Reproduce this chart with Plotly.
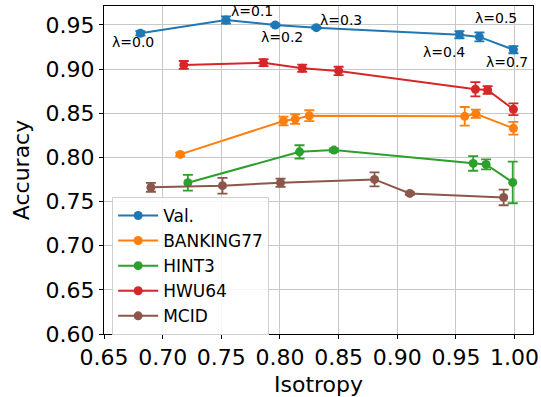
import plotly.graph_objects as go

# ---- data ----
val_x = [0.681, 0.754, 0.796, 0.831, 0.953, 0.970, 0.999]
val_y = [0.9406, 0.9557, 0.9500, 0.9470, 0.9390, 0.9365, 0.9220]
val_err = [0.0025, 0.004, 0.0015, 0.0015, 0.004, 0.005, 0.004]
val_labels = ["λ=0.0", "λ=0.1", "λ=0.2", "λ=0.3", "λ=0.4", "λ=0.5", "λ=0.7"]

bank_x = [0.715, 0.803, 0.813, 0.825, 0.9575, 0.967, 0.999]
bank_y = [0.8034, 0.8412, 0.8434, 0.8472, 0.8465, 0.8494, 0.8330]
bank_err = [0.002, 0.005, 0.0055, 0.0062, 0.0106, 0.0047, 0.0072]

hint_x = [0.7215, 0.8167, 0.846, 0.9647, 0.9757, 0.9984]
hint_y = [0.7713, 0.8063, 0.8083, 0.7932, 0.7921, 0.7717]
hint_err = [0.0089, 0.0075, 0.002, 0.0083, 0.0057, 0.0236]

hwu_x = [0.718, 0.786, 0.819, 0.850, 0.9666, 0.977, 0.999]
hwu_y = [0.9047, 0.9073, 0.9010, 0.8980, 0.8772, 0.8764, 0.8545]
hwu_err = [0.0045, 0.004, 0.004, 0.0047, 0.008, 0.0043, 0.0066]

mcid_x = [0.690, 0.751, 0.8005, 0.8806, 0.9107, 0.9907]
mcid_y = [0.7661, 0.7680, 0.7713, 0.7751, 0.7592, 0.7547]
mcid_err = [0.005, 0.0089, 0.0047, 0.008, 0.0015, 0.0089]

series_names = ["Val.", "BANKING77", "HINT3", "HWU64", "MCID"]
x_ticks = [0.65, 0.70, 0.75, 0.80, 0.85, 0.90, 0.95, 1.00]
y_ticks = [0.60, 0.65, 0.70, 0.75, 0.80, 0.85, 0.90, 0.95]

# ---- styles ----
colors = ["#1f77b4", "#ff7f0e", "#2ca02c", "#d62728", "#8c564b"]
label_shifts = [(-7, -9), (26, 9), (7, -12), (25, 8), (-15, -17), (17, 19), (-6, -12)]
FONT = "DejaVu Sans, Liberation Sans, sans-serif"

fig = go.Figure()
data = [(val_x, val_y, val_err), (bank_x, bank_y, bank_err), (hint_x, hint_y, hint_err),
        (hwu_x, hwu_y, hwu_err), (mcid_x, mcid_y, mcid_err)]
for (xs, ys, es), name, c in zip(data, series_names, colors):
    fig.add_trace(go.Scatter(
        x=xs, y=ys, name=name, mode="lines+markers",
        line=dict(color=c, width=2),
        marker=dict(color=c, size=9),
        error_y=dict(type="data", array=es, visible=True, color=c, thickness=1.8, width=5),
    ))

for x, y, t, (dx, dy) in zip(val_x, val_y, val_labels, label_shifts):
    fig.add_annotation(x=x, y=y, text=t, showarrow=False, xshift=dx, yshift=dy,
                       font=dict(size=14, color="black", family=FONT))

axis_common = dict(
    showline=True, linecolor="black", linewidth=1, mirror=True,
    showgrid=True, gridcolor="#c8c8c8", gridwidth=1,
    ticks="outside", ticklen=4, tickcolor="black",
    tickfont=dict(size=22, color="black", family=FONT),
    zeroline=False, automargin=False,
)
fig.update_xaxes(range=[0.65, 1.0157], tickvals=x_ticks, tickformat=".2f",
                 title=dict(text="Isotropy", font=dict(size=22, color="black", family=FONT), standoff=7),
                 **axis_common)
fig.update_yaxes(range=[0.60, 0.9715], tickvals=y_ticks, tickformat=".2f",
                 title=dict(text="Accuracy", font=dict(size=22, color="black", family=FONT), standoff=9),
                 **axis_common)

fig.update_layout(
    width=541, height=397,
    margin=dict(l=104, r=8, t=6, b=63),
    plot_bgcolor="white", paper_bgcolor="white",
    font=dict(family=FONT),
    legend=dict(x=0.019, y=0.418, xanchor="left", yanchor="top",
                bgcolor="rgba(255,255,255,0.85)", bordercolor="#d0d0d0", borderwidth=1,
                itemwidth=40,
                font=dict(size=17, color="black", family=FONT)),
)

fig.write_html("out.html", config={"displayModeBar": False},
               post_script="document.body.style.margin='0px';")
